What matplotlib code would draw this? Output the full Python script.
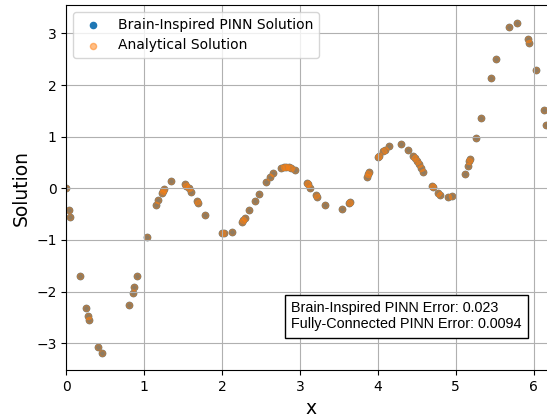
import numpy as np
import matplotlib
matplotlib.use("Agg")
import matplotlib.pyplot as plt

x_vals = [0.00, 0.039, 0.051, 0.176, 0.253, 0.282, 0.295, 0.407, 0.462, 0.805,
          0.852, 0.869, 0.908, 1.032, 1.155, 1.178, 1.224, 1.237, 1.254, 1.344,
          1.52, 1.54, 1.57, 1.605, 1.673, 1.686, 1.785, 2.00, 2.02, 2.127,
          2.25, 2.27, 2.29, 2.35, 2.42, 2.47, 2.56, 2.615, 2.657, 2.75,
          2.79, 2.82, 2.855, 2.885, 2.936, 3.086, 3.10, 3.13, 3.21, 3.22,
          3.32, 3.535, 3.625, 3.645, 3.856, 3.87, 3.89, 4.005, 4.018, 4.07,
          4.09, 4.14, 4.30, 4.39, 4.455, 4.47, 4.50, 4.525, 4.55, 4.58,
          4.695, 4.71, 4.775, 4.80, 4.90, 4.947, 5.12, 5.157, 5.173, 5.186,
          5.26, 5.32, 5.456, 5.52, 5.687, 5.79, 5.923, 5.94, 6.03, 6.13, 6.154]

analytical = [0.00, -0.42, -0.55, -1.69, -2.31, -2.47, -2.56, -3.07, -3.19, -2.27,
              -2.03, -1.92, -1.69, -0.94, -0.33, -0.22, -0.10, -0.05, -0.01, 0.15,
              0.08, 0.05, 0.00, -0.08, -0.24, -0.28, -0.51, -0.86, -0.87, -0.85,
              -0.66, -0.61, -0.58, -0.43, -0.25, -0.12, 0.12, 0.22, 0.30, 0.40,
              0.42, 0.42, 0.42, 0.40, 0.35, 0.11, 0.08, 0.01, -0.13, -0.16,
              -0.32, -0.40, -0.29, -0.27, 0.22, 0.27, 0.31, 0.60, 0.63, 0.72,
              0.74, 0.82, 0.85, 0.74, 0.63, 0.59, 0.52, 0.47, 0.40, 0.31,
              0.04, 0.02, -0.10, -0.13, -0.17, -0.15, 0.28, 0.43, 0.53, 0.56,
              0.97, 1.36, 2.14, 2.50, 3.13, 3.21, 2.89, 2.82, 2.30, 1.51, 1.23]

pinn = list(analytical)

bi_error = 0.023
fc_error = 0.0094

fig = plt.figure(figsize=(5.47, 4.17), dpi=100)
ax = fig.add_axes([66.3 / 547, 47 / 417, 2 * np.pi * 77.9 / 547, 365 / 417])

ax.scatter(x_vals, pinn, s=20, color="C0", label="Brain-Inspired PINN Solution")
ax.scatter(x_vals, analytical, s=20, color="C1", alpha=0.5, label="Analytical Solution")

ax.set_xlim(0, 2 * np.pi)
ax.set_ylim(-3.52, 3.55)
ax.set_xticks([0, 1, 2, 3, 4, 5, 6])
ax.set_yticks([-3, -2, -1, 0, 1, 2, 3])
ax.grid(True)
ax.set_xlabel("x", fontsize=13.5)
ax.set_ylabel("Solution", fontsize=13.5)
ax.legend(loc="upper left", fontsize=10)

ax.text(0.931, 0.106,
        f"Brain-Inspired PINN Error: {bi_error}\nFully-Connected PINN Error: {fc_error}",
        transform=ax.transAxes, ha="right", va="bottom", multialignment="left",
        fontsize=10.4, family=["Liberation Sans", "DejaVu Sans"],
        bbox=dict(boxstyle="square,pad=0.45", facecolor="white", edgecolor="black"))

fig.savefig("out.png", dpi=100)
